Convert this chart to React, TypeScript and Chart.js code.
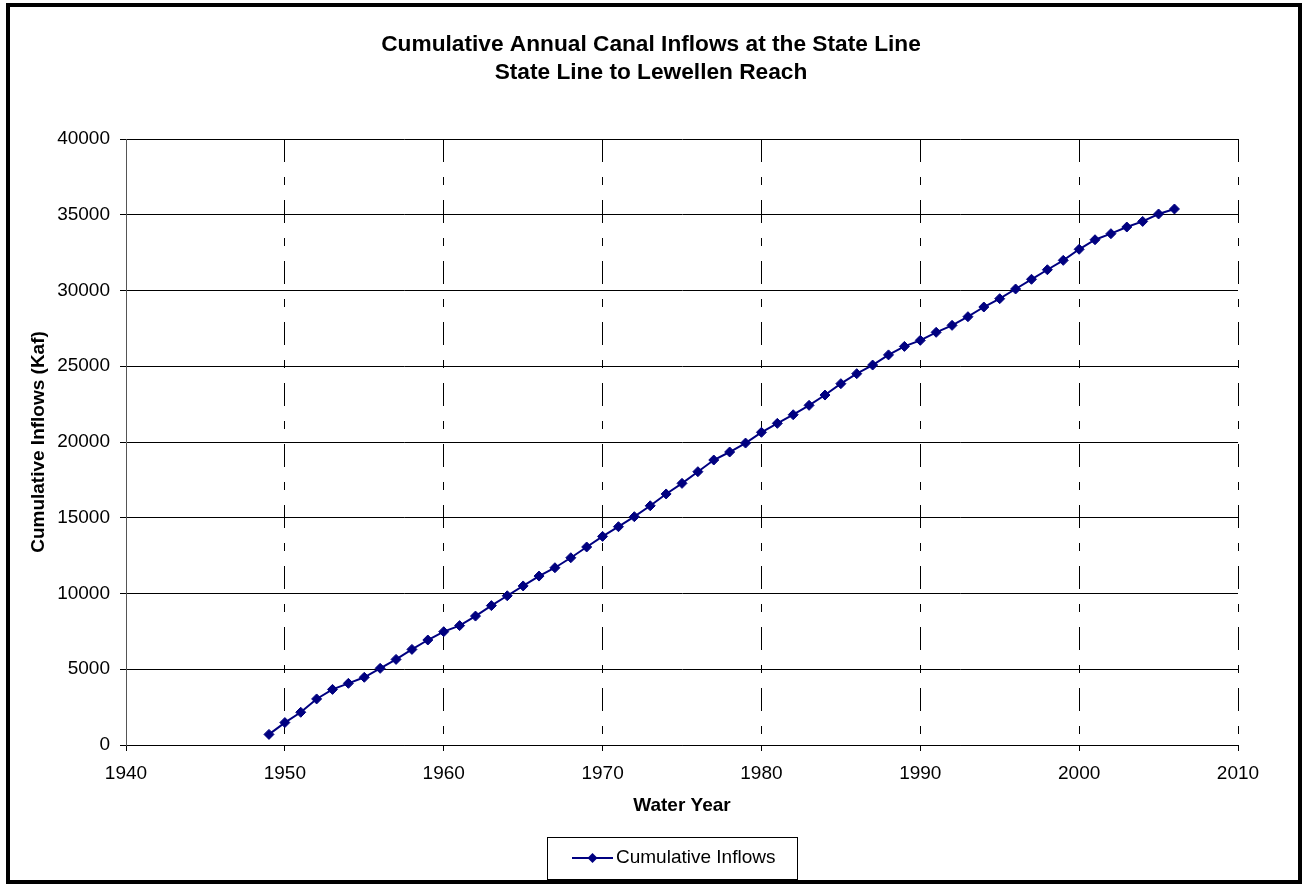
import React, { useEffect, useRef } from "react";
import { Chart, registerables } from "chart.js";

Chart.register(...registerables);

const titleLines = [
  "Cumulative Annual Canal Inflows at the State Line",
  "State Line to Lewellen Reach",
];
const xAxisTitle = "Water Year";
const yAxisTitle = "Cumulative Inflows (Kaf)";
const seriesLabel = "Cumulative Inflows";

const years = [
  1949, 1950, 1951, 1952, 1953, 1954, 1955, 1956, 1957, 1958,
  1959, 1960, 1961, 1962, 1963, 1964, 1965, 1966, 1967, 1968,
  1969, 1970, 1971, 1972, 1973, 1974, 1975, 1976, 1977, 1978,
  1979, 1980, 1981, 1982, 1983, 1984, 1985, 1986, 1987, 1988,
  1989, 1990, 1991, 1992, 1993, 1994, 1995, 1996, 1997, 1998,
  1999, 2000, 2001, 2002, 2003, 2004, 2005, 2006,
];
const cumulativeInflows = [
  700, 1480, 2160, 3040, 3670, 4070, 4470, 5060, 5650, 6310,
  6930, 7480, 7880, 8510, 9200, 9850, 10500, 11150, 11700, 12360,
  13070, 13770, 14410, 15070, 15790, 16570, 17270, 18040, 18810, 19340,
  19930, 20640, 21230, 21800, 22420, 23100, 23850, 24510, 25080, 25750,
  26310, 26710, 27240, 27700, 28270, 28910, 29460, 30100, 30740, 31370,
  31990, 32720, 33350, 33750, 34190, 34560, 35050, 35380,
];
const xTicks = [1940, 1950, 1960, 1970, 1980, 1990, 2000, 2010];
const yTicks = [0, 5000, 10000, 15000, 20000, 25000, 30000, 35000, 40000];

const FONT = "'Liberation Sans', Arial, sans-serif";
const NAVY = "#000080";

const decorPlugin = {
  id: "decor",
  afterDraw(chart: any) {
    const ctx = chart.ctx;
    const area = chart.chartArea;
    ctx.save();
    // outer frame
    ctx.strokeStyle = "#000";
    ctx.lineWidth = 4;
    ctx.strokeRect(8, 5, 1292, 877);

    // titles
    ctx.fillStyle = "#000";
    ctx.textAlign = "center";
    ctx.textBaseline = "middle";
    ctx.font = `bold 22.7px ${FONT}`;
    ctx.fillText(titleLines[0], 651, 45);
    ctx.fillText(titleLines[1], 651, 73);

    // x axis title
    ctx.font = `bold 19px ${FONT}`;
    const cx = (area.left + area.right) / 2;
    ctx.fillText(xAxisTitle, cx, 806);

    // y axis title
    ctx.save();
    ctx.translate(39, (area.top + area.bottom) / 2);
    ctx.rotate(-Math.PI / 2);
    ctx.fillText(yAxisTitle, 0, 0);
    ctx.restore();

    // legend
    ctx.lineWidth = 1;
    ctx.strokeStyle = "#000";
    ctx.strokeRect(547.5, 837.5, 250, 42);
    ctx.strokeStyle = NAVY;
    ctx.lineWidth = 2;
    ctx.beginPath();
    ctx.moveTo(572, 858);
    ctx.lineTo(613, 858);
    ctx.stroke();
    ctx.fillStyle = NAVY;
    ctx.beginPath();
    const r = 5;
    ctx.moveTo(592.5, 858 - r);
    ctx.lineTo(592.5 + r, 858);
    ctx.lineTo(592.5, 858 + r);
    ctx.lineTo(592.5 - r, 858);
    ctx.closePath();
    ctx.fill();
    ctx.fillStyle = "#000";
    ctx.textAlign = "left";
    ctx.font = `19px ${FONT}`;
    ctx.fillText(seriesLabel, 616, 858);
    ctx.restore();
  },
};

export default function App() {
  const canvasRef = useRef<HTMLCanvasElement | null>(null);

  useEffect(() => {
    if (!canvasRef.current) return;
    const chart = new Chart(canvasRef.current, {
      type: "line",
      data: {
        datasets: [
          {
            label: seriesLabel,
            data: years.map((y, i) => ({ x: y, y: cumulativeInflows[i] })),
            borderColor: NAVY,
            backgroundColor: NAVY,
            borderWidth: 2,
            pointStyle: "rectRot",
            pointRadius: 5,
            pointBorderWidth: 1,
            pointBackgroundColor: NAVY,
            pointBorderColor: NAVY,
            tension: 0,
          },
        ],
      },
      options: {
        responsive: false,
        animation: false,
        layout: { padding: { left: 0, top: 139, right: 64, bottom: 0 } },
        plugins: {
          legend: { display: false },
          title: { display: false },
          tooltip: { enabled: false },
        },
        scales: {
          x: {
            type: "linear",
            min: 1940,
            max: 2010,
            afterBuildTicks: (scale: any) => {
              scale.ticks = xTicks.map((v) => ({ value: v }));
            },
            afterFit: (scale: any) => {
              scale.height = 139;
            },
            ticks: {
              color: "#000",
              font: { family: FONT, size: 19 },
              padding: 11,
              maxRotation: 0,
              autoSkip: false,
              callback: (v: any) => String(v),
            },
            grid: {
              color: "#000",
              lineWidth: 1,
              tickBorderDash: [],
              tickLength: 6,
              tickColor: "#000",
            },
            border: { display: true, color: "#000", width: 1, dash: [23, 15, 8, 15] },
          },
          y: {
            type: "linear",
            min: 0,
            max: 40000,
            afterBuildTicks: (scale: any) => {
              scale.ticks = yTicks.map((v) => ({ value: v }));
            },
            afterFit: (scale: any) => {
              scale.width = 126;
            },
            ticks: {
              color: "#000",
              font: { family: FONT, size: 19 },
              padding: 10,
              autoSkip: false,
              callback: (v: any) => String(v),
            },
            grid: {
              color: "#000",
              lineWidth: 1,
              tickLength: 6,
              tickColor: "#000",
            },
            border: { display: true, color: "#555", width: 1 },
          },
        },
      },
      plugins: [decorPlugin],
    } as any);
    return () => chart.destroy();
  }, []);

  return (
    <div style={{ position: "absolute", left: 0, top: 0, width: 1302, height: 884, background: "#fff" }}>
      <canvas ref={canvasRef} width={1302} height={884} style={{ display: "block" }} />
    </div>
  );
}
